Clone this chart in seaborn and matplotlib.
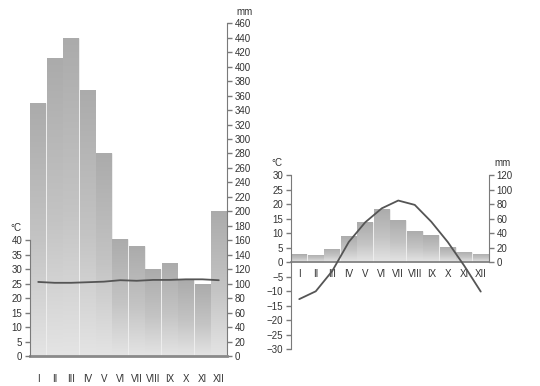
import numpy as np
import pandas as pd
import matplotlib
matplotlib.use("Agg")
import matplotlib.pyplot as plt
from matplotlib.colors import LinearSegmentedColormap
import seaborn as sns

# --- dados ---
months = ['I', 'II', 'III', 'IV', 'V', 'VI', 'VII', 'VIII', 'IX', 'X', 'XI', 'XII']

# estação tropical (esquerda)
precip_left = [350, 412, 440, 368, 280, 162, 152, 120, 128, 106, 99, 201]
temp_left = [25.6, 25.3, 25.3, 25.5, 25.7, 26.2, 26.0, 26.3, 26.3, 26.5, 26.5, 26.2]

# estação continental (direita)
precip_right = [11, 10.5, 19, 36, 55, 73.5, 59, 43, 37, 21, 14.5, 12]
temp_right = [-12.7, -10.0, -3.0, 7.0, 13.8, 18.6, 21.3, 19.8, 14.0, 7.0, -1.2, -10.1]

sns.set_style("white")
plt.rcParams['font.family'] = ['Liberation Sans', 'DejaVu Sans']
plt.rcParams['font.size'] = 7

AXIS_COL = '#7a7a7a'
TXT_COL = '#333333'
LINE_COL = '#555555'

grad_cmap = LinearSegmentedColormap.from_list(
    'bar_grad', [(0.0, '#e4e4e4'), (0.45, '#c4c4c4'), (1.0, '#ababab')])
grad = np.linspace(0, 1, 256).reshape(-1, 1)


def gradient_bars(ax):
    for p in ax.patches:
        x0, y0 = p.get_x(), p.get_y()
        w, h = p.get_width(), p.get_height()
        im = ax.imshow(grad, cmap=grad_cmap, origin='lower', aspect='auto',
                       extent=[x0, x0 + w, y0, y0 + h], zorder=p.get_zorder() + 0.1,
                       vmin=0, vmax=1)
        im.set_clip_path(p)


def style_ticks(ax, side):
    if side == 'left':
        ax.yaxis.tick_left()
    else:
        ax.yaxis.tick_right()
    ax.tick_params(axis='y', colors=AXIS_COL, labelcolor=TXT_COL, length=3.5,
                   width=1, pad=2, labelsize=7)


fig = plt.figure(figsize=(5.4, 3.86), dpi=100)
W, H = 540, 386


def px_axes(x0, x1, ytop, ybot):
    return fig.add_axes([x0 / W, 1 - ybot / H, (x1 - x0) / W, (ybot - ytop) / H])


# ---------------- gráfico esquerdo ----------------
axL = px_axes(30, 227, 23.3, 356)
dfL = pd.DataFrame({'mes': months, 'prec': precip_left, 'temp': temp_left,
                    'pos': np.arange(len(months))})
sns.barplot(data=dfL, x='mes', y='prec', color='#b0b0b0', width=0.95,
            edgecolor='white', linewidth=0.4, ax=axL)
gradient_bars(axL)
axL2 = axL.twinx()
sns.lineplot(data=dfL, x='pos', y='temp', color=LINE_COL, linewidth=1.3, ax=axL2)

axL.set_xlim(-0.5, 11.5)
axL.set_ylim(0, 460)
axL.set_yticks(np.arange(0, 461, 20))
style_ticks(axL, 'right')
axL.set_xlabel('')
axL.set_ylabel('')
for s in ['left', 'top']:
    axL.spines[s].set_visible(False)
axL.spines['right'].set_color(AXIS_COL)
axL.spines['bottom'].set_color('#8a8a8a')
axL.spines['bottom'].set_linewidth(2)
axL.tick_params(axis='x', length=0, pad=13, labelcolor=TXT_COL, labelsize=7)

axL2.set_ylim(0, 115)
axL2.set_yticks(np.arange(0, 41, 5))
style_ticks(axL2, 'left')
axL2.set_ylabel('')
axL2.set_xlabel('')
for s in ['right', 'top', 'bottom']:
    axL2.spines[s].set_visible(False)
axL2.spines['left'].set_color(AXIS_COL)
axL2.spines['left'].set_bounds(0, 40)
axL2.set_xlim(-0.5, 11.5)

fig.text(16 / W, 1 - 228 / H, '°C', ha='center', va='center', color=TXT_COL, fontsize=7)
fig.text(245 / W, 1 - 12 / H, 'mm', ha='center', va='center', color=TXT_COL, fontsize=7)

# ---------------- gráfico direito ----------------
axR = px_axes(291, 489, 175.3, 349.3)
dfR = pd.DataFrame({'mes': months, 'prec': precip_right, 'temp': temp_right,
                    'pos': np.arange(len(months))})
sns.barplot(data=dfR, x='mes', y='prec', color='#b0b0b0', width=0.95,
            edgecolor='white', linewidth=0.4, ax=axR)
gradient_bars(axR)
axR2 = axR.twinx()
sns.lineplot(data=dfR, x='pos', y='temp', color=LINE_COL, linewidth=1.3, ax=axR2)

axR.set_xlim(-0.5, 11.5)
axR.set_ylim(-120, 120)
axR.set_yticks(np.arange(0, 121, 20))
style_ticks(axR, 'right')
axR.set_xlabel('')
axR.set_ylabel('')
for s in ['left', 'top']:
    axR.spines[s].set_visible(False)
axR.spines['right'].set_color(AXIS_COL)
axR.spines['right'].set_bounds(0, 120)
axR.spines['bottom'].set_position(('data', 0))
axR.spines['bottom'].set_color(AXIS_COL)
axR.spines['bottom'].set_linewidth(1.2)
axR.tick_params(axis='x', length=0, pad=5, labelcolor=TXT_COL, labelsize=7)

axR2.set_ylim(-30, 30)
axR2.set_yticks(np.arange(-30, 31, 5))
style_ticks(axR2, 'left')
axR2.set_ylabel('')
axR2.set_xlabel('')
for s in ['right', 'top', 'bottom']:
    axR2.spines[s].set_visible(False)
axR2.spines['left'].set_color(AXIS_COL)
axR2.set_xlim(-0.5, 11.5)

fig.text(277 / W, 1 - 163 / H, '°C', ha='center', va='center', color=TXT_COL, fontsize=7)
fig.text(503 / W, 1 - 163 / H, 'mm', ha='center', va='center', color=TXT_COL, fontsize=7)

fig.savefig('out.png', dpi=100)
